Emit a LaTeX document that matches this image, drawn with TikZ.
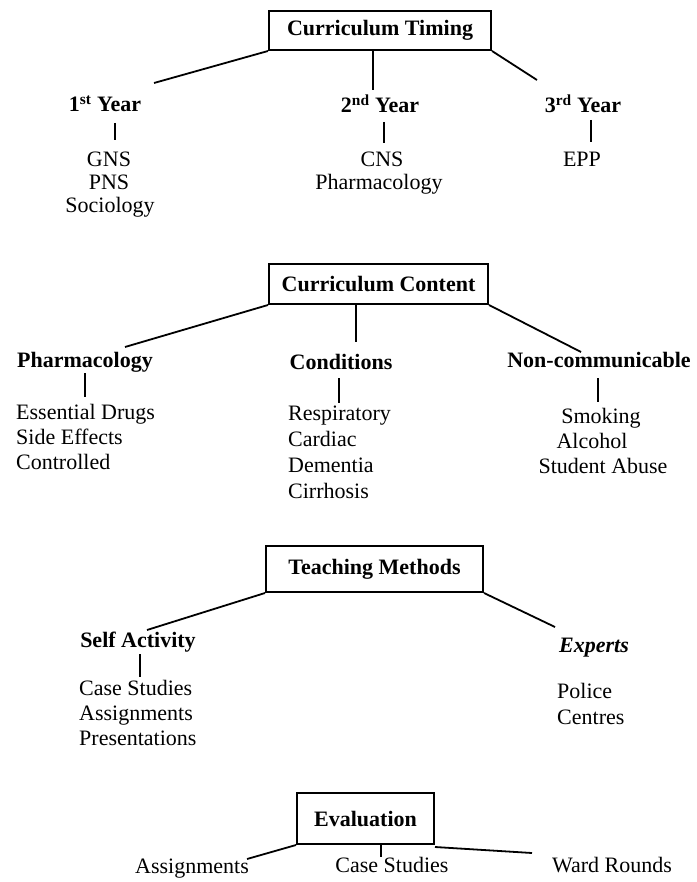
\documentclass[tikz,border=0pt]{standalone}
\usepackage{fontspec}
\setmainfont{Liberation Serif}
\begin{document}
\begin{tikzpicture}[x=1pt, y=-1pt,
  hdrbox/.style={draw, line width=2pt, inner sep=0pt, font=\fontsize{22}{26}\selectfont\bfseries},
  cat/.style={inner sep=0pt, anchor=base, font=\fontsize{22}{26}\selectfont\bfseries},
  item/.style={inner sep=0pt, anchor=base, font=\fontsize{22}{26}\selectfont},
  itemL/.style={item, anchor=base west},
  conn/.style={line width=1.8pt},
  tick/.style={line width=1.2pt}]
\useasboundingbox (0,0) rectangle (696,882);

% ---------- Curriculum Timing ----------
\node[hdrbox, minimum width=222pt, minimum height=39pt] (tbox) at (380,30.5) {Curriculum Timing};
\node[cat] (y1) at (105,112) {1\textsuperscript{st} Year};
\node[cat] (y2) at (380,113) {2\textsuperscript{nd} Year};
\node[cat] (y3) at (583,113) {3\textsuperscript{rd} Year};
\coordinate (y1in) at (154,83);
\coordinate (y2in) at (373,90);
\coordinate (y3in) at (537,80);
\draw[conn] (tbox.south west) -- (y1in);
\draw[conn] ([xshift=-7pt]tbox.south) -- (y2in);
\draw[conn] (tbox.south east) -- (y3in);
\node[item] (gns) at (109,167) {GNS};
\node[item] (pns) at (109,190) {PNS};
\node[item] (soc) at (110,213) {Sociology};
\node[item] (cns) at (382,167) {CNS};
\node[item] (pha) at (379,190) {Pharmacology};
\node[item] (epp) at (582,167) {EPP};
\coordinate (y1a) at (115,123); \coordinate (y1b) at (115,140);
\coordinate (y2a) at (384,122); \coordinate (y2b) at (384,143);
\coordinate (y3a) at (591,120); \coordinate (y3b) at (591,142);
\draw[tick] (y1a) -- (y1b);
\draw[tick] (y2a) -- (y2b);
\draw[tick] (y3a) -- (y3b);

% ---------- Curriculum Content ----------
\node[hdrbox, minimum width=219pt, minimum height=40pt] (cbox) at (378.5,284) {Curriculum Content};
\node[cat] (ph) at (85,367) {Pharmacology};
\node[cat] (co) at (341,369) {Conditions};
\node[cat] (nc) at (599,367) {Non-communicable};
\coordinate (phin) at (125,347);
\coordinate (coin) at (356,342);
\coordinate (ncin) at (581,352);
\draw[conn] (cbox.south west) -- (phin);
\draw[conn] ([xshift=-22.5pt]cbox.south) -- (coin);
\draw[conn] (cbox.south east) -- (ncin);
\coordinate (pha1) at (85,373); \coordinate (pha2) at (85,397);
\coordinate (coa1) at (339,378); \coordinate (coa2) at (339,403);
\coordinate (nca1) at (598,378); \coordinate (nca2) at (598,402);
\draw[tick] (pha1) -- (pha2);
\draw[tick] (coa1) -- (coa2);
\draw[tick] (nca1) -- (nca2);
\node[itemL] (ed) at (16,419) {Essential Drugs};
\node[itemL] (se) at (16,444) {Side Effects};
\node[itemL] (ct) at (16,469) {Controlled};
\node[itemL] (re) at (288,420) {Respiratory};
\node[itemL] (ca) at (288,446) {Cardiac};
\node[itemL] (de) at (288,472) {Dementia};
\node[itemL] (ci) at (288,498) {Cirrhosis};
\node[item] (sm) at (601,423) {Smoking};
\node[item] (al) at (592,448) {Alcohol};
\node[item] (sa) at (603,473) {Student Abuse};

% ---------- Teaching Methods ----------
\node[hdrbox, minimum width=217pt, minimum height=46pt] (mbox) at (374.5,569) {Teaching Methods};
\node[cat] (sa2) at (138,647) {Self Activity};
\node[cat, font=\fontsize{22}{26}\selectfont\bfseries\itshape] (ex) at (594,652) {Experts};
\coordinate (sain) at (147,630);
\coordinate (exin) at (555,627);
\draw[conn] (mbox.south west) -- (sain);
\draw[conn] (mbox.south east) -- (exin);
\coordinate (saa1) at (140,654); \coordinate (saa2) at (140,677);
\draw[tick] (saa1) -- (saa2);
\node[itemL] (cs) at (79,695) {Case Studies};
\node[itemL] (as) at (79,720) {Assignments};
\node[itemL] (pr) at (79,745) {Presentations};
\node[itemL] (po) at (557,698) {Police};
\node[itemL] (ce) at (557,724) {Centres};

% ---------- Evaluation ----------
\node[hdrbox, minimum width=137pt, minimum height=51pt] (ebox) at (365.5,818.5) {Evaluation};
\node[item] (eas) at (192,873) {Assignments};
\node[item] (ecs) at (392,872) {Case Studies};
\node[item] (ewr) at (612,872) {Ward Rounds};
\coordinate (easin) at (247,859);
\coordinate (ecsin) at (381,857);
\coordinate (ewrin) at (532,853);
\draw[conn] (ebox.south west) -- (easin);
\draw[tick] ([xshift=15.5pt]ebox.south) -- (ecsin);
\draw[conn] ([yshift=-2pt]ebox.south east) -- (ewrin);
\end{tikzpicture}
\end{document}
